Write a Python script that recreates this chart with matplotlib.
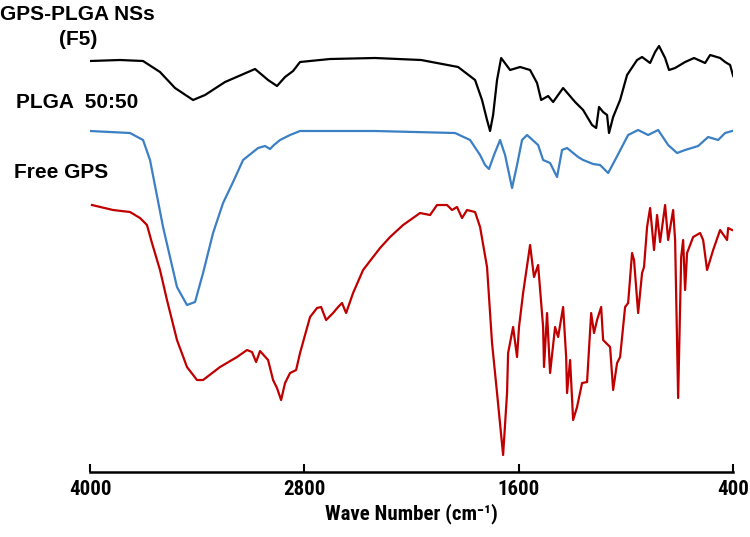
import matplotlib
matplotlib.use("Agg")
import matplotlib.pyplot as plt
from matplotlib import font_manager

# FTIR spectra (transmittance in arbitrary units)
wn_f5 = [4000, 3832, 3703, 3608, 3524, 3423, 3356, 3244, 3076, 3003, 2953, 2908, 2863,
         2824, 2656, 2404, 2146, 1939, 1844, 1805, 1777, 1760, 1743, 1721, 1698, 1648,
         1592, 1536, 1497, 1474, 1435, 1407, 1351, 1284, 1239, 1189, 1166, 1150, 1127,
         1105, 1094, 1071, 1032, 993, 937, 909, 864, 836, 814, 780, 758, 724, 668, 618,
         556, 528, 472, 444, 416, 399]
t_f5 = [411, 412, 411, 400, 384, 372, 377, 390, 403, 392, 386, 395, 401,
        410, 413, 414, 412, 405, 392, 372, 352, 341, 357, 392, 414, 402,
        405, 402, 389, 372, 376, 370, 384, 370, 362, 347, 344, 365, 360,
        357, 339, 355, 372, 397, 412, 415, 409, 420, 426, 414, 402, 404, 410, 414,
        409, 417, 414, 410, 407, 396]

wn_plga = [4000, 3776, 3703, 3664, 3591, 3513, 3457, 3412, 3367, 3311, 3255, 3199, 3143,
           3059, 3020, 2992, 2970, 2936, 2880, 2824, 2404, 1956, 1872, 1816, 1788, 1766,
           1738, 1704, 1676, 1637, 1609, 1581, 1553, 1491, 1463, 1424, 1385, 1357, 1329,
           1267, 1239, 1183, 1144, 1099, 1060, 987, 931, 875, 819, 763, 713, 668, 595,
           539, 483, 444, 405]
t_plga = [341, 339, 332, 312, 245, 185, 167, 170, 199, 239, 269, 290, 312,
          324, 326, 323, 327, 332, 337, 341, 341, 339, 332, 317, 307, 303,
          317, 332, 317, 284, 307, 332, 337, 327, 312, 309, 295, 322, 324,
          315, 312, 308, 307, 299, 312, 337, 342, 337, 342, 327, 319, 322, 326,
          335, 332, 339, 341]

wn_gps = [3989, 3871, 3776, 3720, 3681, 3653, 3608, 3569, 3513, 3457, 3401, 3367, 3272,
          3177, 3121, 3093, 3070, 3048, 3003, 2975, 2953, 2930, 2908, 2880, 2846, 2824,
          2768, 2729, 2706, 2678, 2639, 2611, 2589, 2566, 2527, 2471, 2415, 2376, 2320,
          2247, 2152, 2096, 2057, 2001, 1973, 1945, 1917, 1889, 1844, 1816, 1777, 1749,
          1721, 1687, 1665, 1659, 1631, 1609, 1598, 1575, 1536, 1514, 1491, 1463, 1458,
          1441, 1424, 1396, 1379, 1351, 1334, 1329, 1312, 1295, 1273, 1245, 1217, 1194,
          1178, 1161, 1138, 1127, 1088, 1071, 1049, 1032, 1004, 987, 965, 954, 931, 909,
          898, 881, 864, 842, 825, 808, 780, 763, 735, 724, 707, 690, 679, 668, 657, 623,
          584, 567, 545, 511, 472, 433, 427, 405]
t_gps = [267, 262, 260, 254, 247, 229, 202, 172, 132, 105, 92, 92, 105,
         115, 122, 120, 110, 121, 112, 92, 84, 72, 89, 99, 102, 119,
         155, 164, 165, 152, 159, 165, 169, 159, 179, 202, 215, 224, 235,
         247, 259, 257, 267, 267, 262, 265, 254, 262, 260, 245, 205, 129,
         79, 17, 79, 119, 145, 115, 145, 179, 227, 195, 207, 145, 105,
         159, 99, 145, 135, 165, 115, 79, 112, 52, 65, 89, 90, 159,
         139, 152, 165, 132, 125, 82, 109, 115, 165, 169, 219, 212, 159, 199,
         205, 245, 264, 222, 257, 230, 267, 232, 262, 232, 74, 215, 232, 182, 219, 235,
         239, 232, 202, 222, 242, 232, 244, 242]

ticks = [4000, 2800, 1600, 400]

# narrow bold face for the axis text if one is around
installed = {f.name for f in font_manager.fontManager.ttflist}
narrow = [f for f in ["Liberation Sans Narrow", "DejaVu Sans Condensed", "Roboto Condensed"]
          if f in installed] + ["Liberation Sans", "DejaVu Sans"]
sans = ["Liberation Sans", "DejaVu Sans"]

fig = plt.figure(figsize=(7.5, 5.37), dpi=100)
ax = fig.add_axes([0.12, 0.121, 0.8573, 0.879])

ax.plot(wn_f5, t_f5, color="black", lw=1.6)
ax.plot(wn_plga, t_plga, color="#3b7fc4", lw=1.6)
ax.plot(wn_gps, t_gps, color="#c00000", lw=1.6)

ax.set_xlim(4000, 400)
ax.set_ylim(0, 472)
for s in ["left", "right", "top"]:
    ax.spines[s].set_visible(False)
ax.spines["bottom"].set_linewidth(1.8)
ax.set_yticks([])
ax.set_xticks(ticks)
ax.set_xticklabels([str(t) for t in ticks], fontfamily=narrow, fontweight="bold", fontsize=15)
ax.tick_params(axis="x", direction="in", length=6, width=1.5, pad=6)
ax.set_xlabel("Wave Number (cm\u207b\u00b9)", fontfamily=narrow, fontweight="bold",
              fontsize=15, labelpad=3)

fig.text(0.0, 0.99, "GPS-PLGA NSs", fontfamily=sans, fontweight="bold", fontsize=15,
         va="top", ha="left")
fig.text(0.078, 0.945, "(F5)", fontfamily=sans, fontweight="bold", fontsize=15,
         va="top", ha="left")
fig.text(0.022, 0.826, "PLGA  50:50", fontfamily=sans, fontweight="bold", fontsize=15,
         va="top", ha="left")
fig.text(0.019, 0.697, "Free GPS", fontfamily=sans, fontweight="bold", fontsize=15,
         va="top", ha="left")

fig.savefig("out.png", dpi=100)
